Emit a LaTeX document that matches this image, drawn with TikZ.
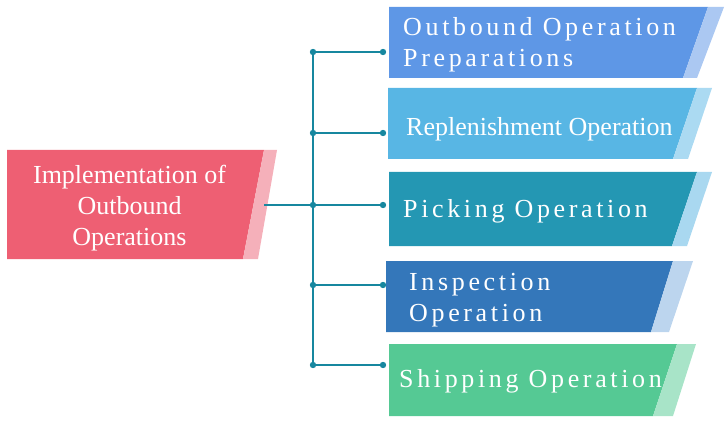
\documentclass[tikz,border=0pt]{standalone}
\usepackage{fontspec}
\setmainfont{Liberation Serif}
\usepackage{tikz}
\usetikzlibrary{positioning}
\definecolor{redbox}{HTML}{EE5F73}
\definecolor{redlight}{HTML}{F5B0BA}
\definecolor{prepbox}{HTML}{5E97E6}
\definecolor{preplight}{HTML}{ABC8F2}
\definecolor{replbox}{HTML}{58B6E4}
\definecolor{repllight}{HTML}{ABDAF2}
\definecolor{pickbox}{HTML}{2497B3}
\definecolor{picklight}{HTML}{A9D8F0}
\definecolor{inspbox}{HTML}{3477BA}
\definecolor{insplight}{HTML}{BCD5EE}
\definecolor{shipbox}{HTML}{55C994}
\definecolor{shiplight}{HTML}{A8E4C8}
\definecolor{linkc}{HTML}{17879F}

\begin{document}
\begin{tikzpicture}[x=1pt,y=-1pt]
\tikzstyle{label}=[text=white,font=\fontsize{26}{31}\selectfont,align=left,inner sep=0pt,anchor=west]
\tikzstyle{spaced}=[font=\fontsize{26}{31}\selectfont\addfontfeatures{LetterSpace=14}]
\tikzstyle{link}=[draw=linkc,line width=1.5pt]

\useasboundingbox (0,0) rectangle (728,422);

% main box
\fill[redbox] (7,150) -- (264,150) -- (243,259) -- (7,259) -- cycle;
\fill[redlight] (264,150) -- (277,150) -- (258,259) -- (243,259) -- cycle;
\node[label,anchor=center,align=center] (main) at (129.5,208.5) {Implementation of\\Outbound\\Operations};

% operation boxes
\fill[prepbox] (389,7) -- (708,7) -- (683,78) -- (389,78) -- cycle;
\fill[preplight] (708,7) -- (724,7) -- (697,78) -- (683,78) -- cycle;
\node[label,spaced] (prep) at (403,45) {Outbound Operation\\Preparations};

\fill[replbox] (388,88) -- (697,88) -- (673,159) -- (388,159) -- cycle;
\fill[repllight] (697,88) -- (712,88) -- (688,159) -- (673,159) -- cycle;
\node[label] (repl) at (406,129) {Replenishment Operation};

\fill[pickbox] (389,172) -- (697,172) -- (672,246) -- (389,246) -- cycle;
\fill[picklight] (697,172) -- (712,172) -- (687,246) -- (672,246) -- cycle;
\node[label,spaced] (pick) at (403,211) {Picking Operation};

\fill[inspbox] (386,261) -- (673,261) -- (651,332) -- (386,332) -- cycle;
\fill[insplight] (673,261) -- (693,261) -- (669,332) -- (651,332) -- cycle;
\node[label,spaced] (insp) at (409,300) {Inspection\\Operation};

\fill[shipbox] (389,344) -- (677,344) -- (653,416) -- (389,416) -- cycle;
\fill[shiplight] (677,344) -- (696,344) -- (673,416) -- (653,416) -- cycle;
\node[label,spaced] (ship) at (399,381.5) {Shipping Operation};

% connectors
\coordinate (out) at (264,205);
\coordinate (j1) at (313,52);  \coordinate (e1) at (383,52);
\coordinate (j2) at (313,133); \coordinate (e2) at (383,133);
\coordinate (j3) at (313,205); \coordinate (e3) at (383,205);
\coordinate (j4) at (313,285); \coordinate (e4) at (383,285);
\coordinate (j5) at (313,365); \coordinate (e5) at (383,365);

\draw[link] (out) -- (j3);
\draw[link] (j1) -- (j5);
\draw[link] (j1) -- (e1);
\draw[link] (j2) -- (e2);
\draw[link] (j3) -- (e3);
\draw[link] (j4) -- (e4);
\draw[link] (j5) -- (e5);
\foreach \p in {j1,j2,j3,j4,j5,e1,e2,e3,e4,e5}
  \fill[linkc] (\p) circle (3.2pt);

\end{tikzpicture}
\end{document}
